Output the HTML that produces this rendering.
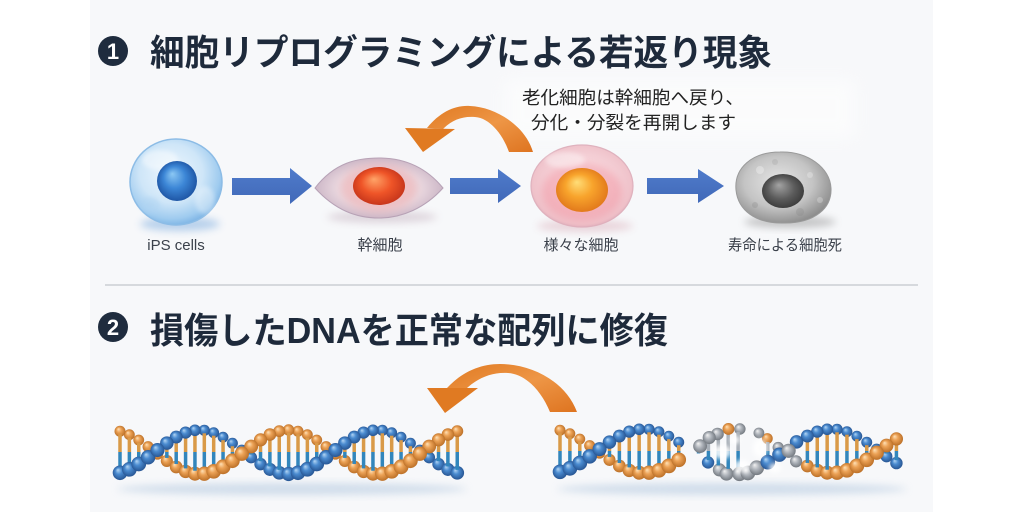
<!DOCTYPE html>
<html><head><meta charset="utf-8">
<style>
html,body{margin:0;padding:0;background:#fff;}
body{width:1024px;height:512px;overflow:hidden;}
svg{display:block}
text{font-family:"Liberation Sans","Noto Sans CJK JP",sans-serif;}
</style></head><body>
<svg id="s" width="1024" height="512" viewBox="0 0 1024 512" xmlns="http://www.w3.org/2000/svg">
<defs>
  <filter id="b2" x="-50%" y="-50%" width="200%" height="200%"><feGaussianBlur stdDeviation="2"/></filter>
  <filter id="b4" x="-50%" y="-50%" width="200%" height="200%"><feGaussianBlur stdDeviation="4"/></filter>
  <filter id="b8" x="-50%" y="-50%" width="200%" height="200%"><feGaussianBlur stdDeviation="8"/></filter>
  <radialGradient id="gIPS" cx="45%" cy="40%" r="62%">
    <stop offset="0" stop-color="#eef7fe"/><stop offset=".55" stop-color="#cfe6f8"/>
    <stop offset=".85" stop-color="#9fcbef"/><stop offset="1" stop-color="#7ab2e4"/>
  </radialGradient>
  <radialGradient id="gNucB" cx="50%" cy="50%" fx="38%" fy="32%" r="55%">
    <stop offset="0" stop-color="#8cc8f4"/><stop offset=".5" stop-color="#3c86d6"/><stop offset="1" stop-color="#1a4f9e"/>
  </radialGradient>
  <radialGradient id="gStem" cx="50%" cy="50%" r="55%">
    <stop offset="0" stop-color="#f6e4e8"/><stop offset=".6" stop-color="#e8d6de"/><stop offset="1" stop-color="#c4aec0"/>
  </radialGradient>
  <radialGradient id="gNucR" cx="50%" cy="50%" fx="40%" fy="32%" r="58%">
    <stop offset="0" stop-color="#ffa468"/><stop offset=".5" stop-color="#ef5528"/><stop offset="1" stop-color="#bd2e18"/>
  </radialGradient>
  <radialGradient id="gVar" cx="50%" cy="48%" r="55%">
    <stop offset="0" stop-color="#fbecee"/><stop offset=".55" stop-color="#f6d4da"/>
    <stop offset=".88" stop-color="#efc2ca"/><stop offset="1" stop-color="#dca8b6"/>
  </radialGradient>
  <radialGradient id="gNucO" cx="50%" cy="50%" fx="40%" fy="32%" r="58%">
    <stop offset="0" stop-color="#ffde78"/><stop offset=".45" stop-color="#f8a42c"/><stop offset="1" stop-color="#dd7018"/>
  </radialGradient>
  <radialGradient id="gDead" cx="45%" cy="42%" r="60%">
    <stop offset="0" stop-color="#e6e6e6"/><stop offset=".6" stop-color="#c4c4c4"/><stop offset="1" stop-color="#8e8e8e"/>
  </radialGradient>
  <radialGradient id="gNucG" cx="50%" cy="50%" fx="40%" fy="32%" r="58%">
    <stop offset="0" stop-color="#a4a4a4"/><stop offset=".55" stop-color="#5c5c5c"/><stop offset="1" stop-color="#343434"/>
  </radialGradient>
  <linearGradient id="gOr" x1="0" y1="0" x2="1" y2="1">
    <stop offset="0" stop-color="#e07a22"/><stop offset=".5" stop-color="#ee9646"/><stop offset="1" stop-color="#de7420"/>
  </linearGradient>
  <linearGradient id="gBl" x1="0" y1="0" x2="0" y2="1">
    <stop offset="0" stop-color="#4f7bcb"/><stop offset="1" stop-color="#4169b8"/>
  </linearGradient>
  <radialGradient id="bdB" cx="50%" cy="50%" fx="35%" fy="30%" r="55%">
    <stop offset="0" stop-color="#b4d6f4"/><stop offset=".4" stop-color="#4a8bd0"/><stop offset="1" stop-color="#234f8c"/>
  </radialGradient>
  <radialGradient id="bdO" cx="50%" cy="50%" fx="35%" fy="30%" r="55%">
    <stop offset="0" stop-color="#ffe2b8"/><stop offset=".4" stop-color="#eca256"/><stop offset="1" stop-color="#b66a22"/>
  </radialGradient>
  <radialGradient id="bdG" cx="50%" cy="50%" fx="35%" fy="30%" r="55%">
    <stop offset="0" stop-color="#f2f2f2"/><stop offset=".45" stop-color="#aeb3ba"/><stop offset="1" stop-color="#6b7178"/>
  </radialGradient>
</defs>

<rect width="1024" height="512" fill="#fff"/>
<rect x="90" y="0" width="843" height="512" fill="#f7f8fa"/>

<!-- Title 1 -->
<circle cx="113" cy="51" r="15" fill="#1f2c3e"/>
<text x="113" y="59" font-size="22" font-weight="700" fill="#fff" text-anchor="middle">1</text>
<text x="150" y="65" font-size="36" font-weight="700" fill="#1e2a3b" textLength="622" lengthAdjust="spacingAndGlyphs">細胞リプログラミングによる若返り現象</text>

<!-- callout text -->
<rect x="505" y="80" width="350" height="58" fill="#fff" opacity=".55" filter="url(#b8)"/>
<text x="522" y="104" font-size="18" fill="#222" textLength="222" lengthAdjust="spacingAndGlyphs">老化細胞は幹細胞へ戻り、</text>
<text x="531" y="129" font-size="18" fill="#222" textLength="205" lengthAdjust="spacingAndGlyphs">分化・分裂を再開します</text>

<!-- top orange arrow -->
<path d="M427,128 C440,112 455,105 470,106 C495,107 525,125 533,152 L509,152 C503,135 490,118 475,117 C462,116 452,120 443,129 Z" fill="url(#gOr)"/>
<polygon points="405,128 455,129 423,152" fill="#e07a22"/>

<!-- iPS cell -->
<ellipse cx="180" cy="224" rx="40" ry="7" fill="#6aa0da" opacity=".45" filter="url(#b4)"/>
<ellipse cx="176" cy="182" rx="46" ry="43" fill="url(#gIPS)" stroke="#8cbce6" stroke-width="1.5"/>
<ellipse cx="160" cy="160" rx="18" ry="10" fill="#fff" opacity=".45" filter="url(#b2)"/>
<ellipse cx="205" cy="200" rx="10" ry="14" fill="#fff" opacity=".35" filter="url(#b2)"/>
<ellipse cx="150" cy="205" rx="10" ry="8" fill="#b0d4f2" opacity=".5" filter="url(#b2)"/>
<circle cx="177" cy="181" r="20" fill="url(#gNucB)"/>

<!-- blue arrow 1 -->
<polygon points="232,178 290,178 290,168 312,186 290,204 290,195 232,195" fill="url(#gBl)"/>

<!-- stem cell -->
<ellipse cx="382" cy="217" rx="55" ry="6" fill="#b8a0b0" opacity=".4" filter="url(#b4)"/>
<path d="M315,188 C335,162 358,158 379,158 C402,158 425,166 443,188 C425,208 402,218 379,218 C356,218 335,210 315,188 Z" fill="url(#gStem)" stroke="#b7a2b6" stroke-width="1"/>
<ellipse cx="379" cy="188" rx="38" ry="24" fill="#f0a4a4" opacity=".45" filter="url(#b4)"/>
<ellipse cx="379" cy="186" rx="26" ry="19" fill="url(#gNucR)"/>

<!-- blue arrow 2 -->
<polygon points="450,178 498,178 498,169 521,186 498,203 498,194 450,194" fill="url(#gBl)"/>

<!-- various cell -->
<ellipse cx="585" cy="226" rx="48" ry="6" fill="#d8a8b4" opacity=".45" filter="url(#b4)"/>
<ellipse cx="582" cy="186" rx="51" ry="41" fill="url(#gVar)" stroke="#dfb2be" stroke-width="1.2"/>
<ellipse cx="582" cy="192" rx="40" ry="29" fill="#ef7888" opacity=".35" filter="url(#b4)"/>
<ellipse cx="565" cy="160" rx="20" ry="8" fill="#fff" opacity=".4" filter="url(#b2)"/>
<ellipse cx="582" cy="190" rx="26" ry="22" fill="url(#gNucO)"/>

<!-- blue arrow 3 -->
<polygon points="647,178 698,178 698,169 724,186 698,203 698,194 647,194" fill="url(#gBl)"/>

<!-- dead cell -->
<ellipse cx="790" cy="222" rx="46" ry="6" fill="#777" opacity=".4" filter="url(#b4)"/>
<path d="M736,190 C734,168 752,152 780,152 C808,151 830,168 831,188 C832,208 815,223 785,223 C755,224 738,210 736,190 Z" fill="url(#gDead)" stroke="#9a9a9a" stroke-width="1"/>
<circle cx="760" cy="170" r="4" fill="#fff" opacity=".3"/>
<circle cx="810" cy="175" r="3" fill="#fff" opacity=".25"/>
<circle cx="775" cy="162" r="3" fill="#999" opacity=".25"/>
<circle cx="800" cy="212" r="4" fill="#888" opacity=".3"/>
<circle cx="755" cy="205" r="3" fill="#888" opacity=".3"/>
<circle cx="820" cy="200" r="3" fill="#fff" opacity=".25"/>
<ellipse cx="783" cy="191" rx="21" ry="17" fill="url(#gNucG)"/>

<!-- labels -->
<text x="176" y="250" font-size="15" fill="#3b414b" text-anchor="middle">iPS cells</text>
<text x="380" y="250" font-size="15" fill="#3b414b" text-anchor="middle">幹細胞</text>
<text x="581" y="250" font-size="15" fill="#3b414b" text-anchor="middle">様々な細胞</text>
<text x="785" y="250" font-size="15" fill="#3b414b" text-anchor="middle" textLength="114" lengthAdjust="spacingAndGlyphs">寿命による細胞死</text>

<!-- separator -->
<rect x="105" y="284" width="813" height="2" fill="#d6d9dd"/>

<!-- Title 2 -->
<circle cx="113" cy="327" r="15" fill="#1f2c3e"/>
<text x="113" y="335" font-size="22" font-weight="700" fill="#fff" text-anchor="middle">2</text>
<text x="150" y="343" font-size="36" font-weight="700" fill="#1e2a3b" textLength="518" lengthAdjust="spacingAndGlyphs">損傷したDNAを正常な配列に修復</text>

<!-- bottom orange arrow -->
<path d="M447,388 C462,372 480,364 500,364 C530,364 565,380 577,412 L550,412 C541,390 525,374 508,373 C492,372 478,378 467,388 Z" fill="url(#gOr)"/>
<polygon points="427,388 478,388 445,413" fill="#e07a22"/>

<!-- DNA reflections -->
<ellipse cx="292" cy="489" rx="175" ry="6" fill="#aac2dc" opacity=".5" filter="url(#b4)"/>
<ellipse cx="732" cy="489" rx="175" ry="6" fill="#aac2dc" opacity=".5" filter="url(#b4)"/>
<g id="dna1"></g>
<g id="dna2"></g>
</svg>
<script>
(function(){
var NS="http://www.w3.org/2000/svg";
function el(tag,a,p){var e=document.createElementNS(NS,tag);for(var k in a)e.setAttribute(k,a[k]);p.appendChild(e);return e;}
function rng(seed){var s=seed;return function(){s=(s*9301+49297)%233280;return s/233280;};}
function helix(g,x0,x1,cy,amp,xc,hp,dmg,seed){
  var r=rng(seed),items=[],step=hp/9.5;
  for(var x=x0;x<=x1+0.01;x+=step){
    var th=Math.PI*(x-xc)/hp,s=Math.sin(th),c=Math.cos(th);
    var yA=cy+amp*s,yB=cy-amp*s,zA=-c,zB=c;
    var inD=dmg&&x>dmg[0]&&x<dmg[1];
    var rv=r(),rv2=r(),rv3=r();
    var top=Math.min(yA,yB),bot=Math.max(yA,yB);
    if(bot-top>9 && !(inD&&rv3<0.45)){
      var mid=(top+bot)/2;
      items.push({z:0,f:function(x,top,mid,bot,inD){return function(){
        el('line',{x1:x,y1:top+3,x2:x,y2:mid,stroke:inD?'#a9b0b8':'#d99a48','stroke-width':3.5},g);
        el('line',{x1:x,y1:mid,x2:x,y2:bot-3,stroke:'#3286bc','stroke-width':3.5},g);};}(x,top,mid,bot,inD)});
    }
    [[yA,zA,'bdO'],[yB,zB,'bdB']].forEach(function(b,i){
      var y=b[0],z=b[1],fill=b[2],xx=x;
      if(inD){ if((i?rv:rv2)<0.18) return; if((i?rv2:rv)<0.65) fill='bdG'; xx+= (r()-0.5)*4; y+=(r()-0.5)*4; }
      var rad=6.4+0.7*z+0.7*((y-cy)/amp);
      items.push({z:z+0.001*i,f:function(){el('circle',{cx:xx,cy:y,r:Math.max(rad,5),fill:'url(#'+fill+')'},g);}});
    });
  }
  items.sort(function(a,b){return a.z-b.z;});
  items.forEach(function(it){it.f();});
  if(dmg){
    [[722,452,9,7],[742,466,8,6],[760,448,7,9],[735,440,5,4],[775,468,6,5]].forEach(function(w){
      el('ellipse',{cx:w[0],cy:w[1],rx:w[2],ry:w[3],fill:'#fff',opacity:.85,filter:'url(#b2)'},g);
    });
  }
}
helix(document.getElementById('dna1'),120,466,452,22,155,89,null,11);
helix(document.getElementById('dna2'),560,905,451,22,597,94,[682,800],23);
})();
</script>
</body></html>
